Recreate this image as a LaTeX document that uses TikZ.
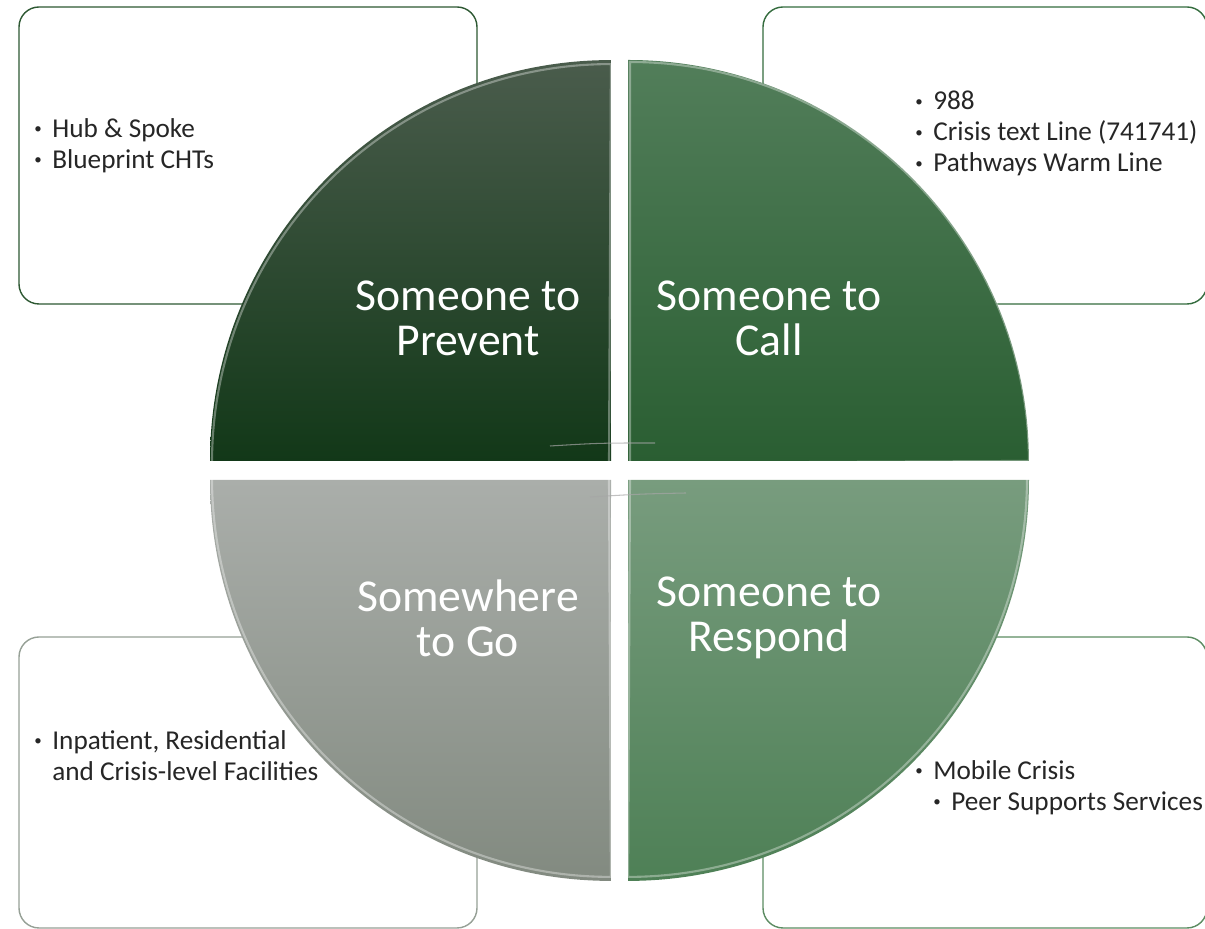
\documentclass[tikz,border=0pt]{standalone}
\usepackage{fontspec}
\setmainfont{Carlito}
\usetikzlibrary{positioning}
\definecolor{prevtop}{RGB}{74,92,76}
\definecolor{prevbot}{RGB}{18,56,24}
\definecolor{calltop}{RGB}{82,126,90}
\definecolor{callbot}{RGB}{42,94,50}
\definecolor{gotop}{RGB}{170,174,170}
\definecolor{gobot}{RGB}{130,138,128}
\definecolor{resptop}{RGB}{120,156,126}
\definecolor{respbot}{RGB}{78,128,86}
\definecolor{prevline}{RGB}{45,88,50}
\definecolor{callline}{RGB}{52,108,62}
\definecolor{goline}{RGB}{150,160,150}
\definecolor{respline}{RGB}{92,140,98}
\tikzset{
  listbox/.style={line width=0.8pt,rounded corners=0.4cm,fill=white},
  listtext/.style={anchor=north west,inner sep=0pt,align=left,text=black!85,
    font=\fontsize{15.5}{17.6}\selectfont},
  quadtext/.style={align=center,text=white,font=\fontsize{26}{25.6}\selectfont},
  bevel/.style={draw=white,draw opacity=0.35,line width=1.2pt},
  streak/.style={gray!70,line width=0.6pt,opacity=0.7}
}
\newcommand{\bul}{\makebox[0.36cm][l]{\raisebox{0.25ex}{\scalebox{0.55}{•}}}}
\begin{document}
\begin{tikzpicture}[x=0.02cm,y=0.02cm]
  \useasboundingbox (0,0) rectangle (1205,929);
  %BOXES BEHIND
  \draw[listbox,draw=prevline] (19,625) rectangle (477,922);
  \draw[listbox,draw=callline] (763,625) rectangle (1207,922);
  \draw[listbox,draw=goline] (19,1) rectangle (477,292);
  \draw[listbox,draw=respline] (763,1) rectangle (1207,292);
  %QUADRANTS
  \shade[top color=prevtop,bottom color=prevbot] (611,468) -- (210,468) arc[start angle=180,end angle=90,radius=8.02cm] -- cycle;
  \shade[top color=calltop,bottom color=callbot] (628,468) -- (628,869) arc[start angle=90,end angle=0,radius=8.02cm] -- cycle;
  \shade[top color=gotop,bottom color=gobot] (611,449) -- (210,449) arc[start angle=180,end angle=270,radius=8.02cm] -- cycle;
  \shade[top color=resptop,bottom color=respbot] (628,449) -- (1029,449) arc[start angle=0,end angle=-90,radius=8.02cm] -- cycle;
  % bevel edges
  \path[bevel] (609,466) -- (212,466) arc[start angle=180,end angle=90,radius=7.98cm] -- cycle;
  \path[bevel] (630,466) -- (630,867) arc[start angle=90,end angle=0,radius=7.98cm] -- cycle;
  \path[bevel] (609,451) -- (212,451) arc[start angle=180,end angle=270,radius=7.98cm] -- cycle;
  \path[bevel] (630,451) -- (1027,451) arc[start angle=0,end angle=-90,radius=7.98cm] -- cycle;
  % streaks near centre
  \draw[streak] (550,483) .. controls (600,486) .. (655,486);
  \draw[streak] (590,432) .. controls (640,435) .. (686,436);
  %LABELS
  \node[quadtext] (prevent) at (468,611) {Someone to\\Prevent};
  \node[quadtext] (call) at (769,611) {Someone to\\Call};
  \node[quadtext] (go) at (468,311) {Somewhere\\to Go};
  \node[quadtext] (respond) at (769,311) {Someone to\\Respond};
  %LISTS
  \node[listtext] (preventlist) at (34,811) {\bul Hub \& Spoke\\\bul Blueprint CHTs};
  \node[listtext] (calllist) at (915,838) {\bul 988\\\bul Crisis text Line (741741)\\\bul Pathways Warm Line};
  \node[listtext] (golist) at (34,199) {\bul Inpatient, Residential\\\hspace{0.36cm}and Crisis-level Facilities};
  \node[listtext] (resplist) at (915,169) {\bul Mobile Crisis\\\hspace{0.36cm}\bul Peer Supports Services};
\end{tikzpicture}
\end{document}
